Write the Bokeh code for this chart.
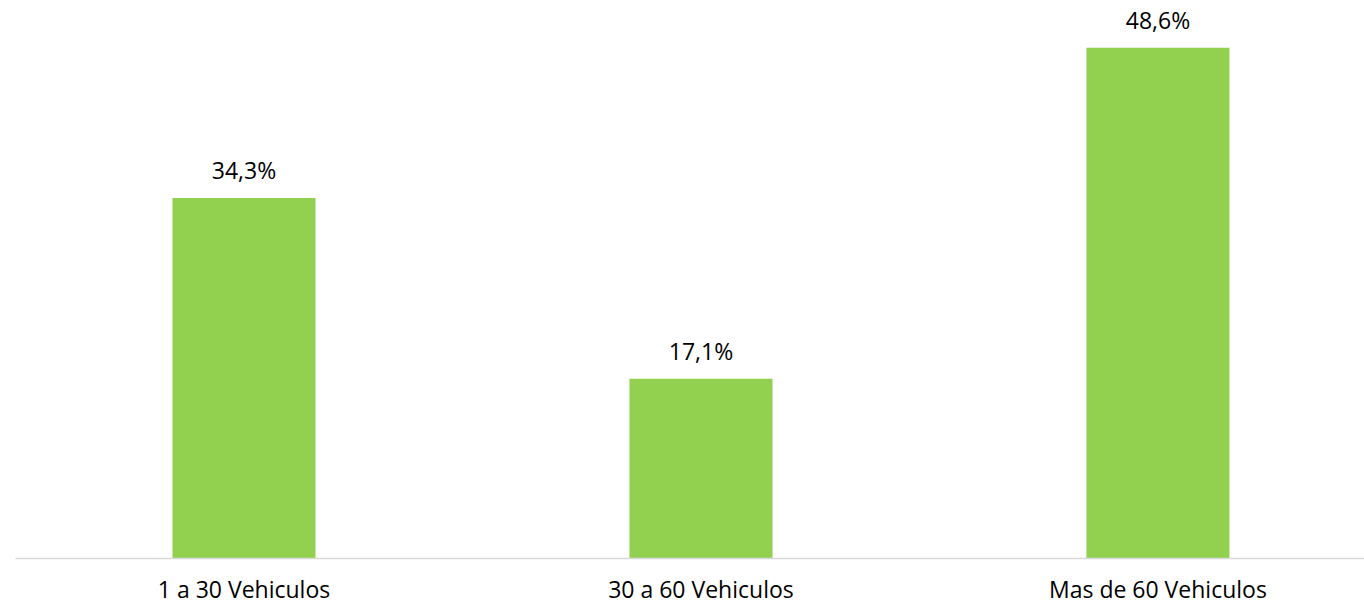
from bokeh.plotting import figure
from bokeh.models import ColumnDataSource, LabelSet, Range1d, FixedTicker
from bokeh.core.properties import value
from bokeh.embed import file_html
from bokeh.resources import INLINE

categories = ["1 a 30 Vehiculos", "30 a 60 Vehiculos", "Mas de 60 Vehiculos"]
values = [34.3, 17.1, 48.6]
value_labels = ["34,3%", "17,1%", "48,6%"]

xpos = [i + 0.5 for i in range(len(categories))]
src = ColumnDataSource(dict(x=xpos, top=values, lab=value_labels))

FONT = "Open Sans"

p = figure(width=1364, height=607, output_backend="svg", toolbar_location=None,
           x_range=Range1d(0, 2.952), y_range=Range1d(0, 53.1),
           min_border_left=15, min_border_right=0, min_border_top=0, min_border_bottom=49)
p.outline_line_color = None
p.grid.visible = False
p.yaxis.visible = False
p.background_fill_color = "white"
p.border_fill_color = "white"

p.vbar(x="x", top="top", width=0.313, bottom=0, source=src,
       fill_color="#92d050", line_color=None)

ax = p.xaxis[0]
ax.ticker = FixedTicker(ticks=xpos)
ax.major_label_overrides = {x: c for x, c in zip(xpos, categories)}
ax.major_label_text_font = FONT
ax.major_label_text_font_size = "23px"
ax.major_label_text_color = "#000000"
ax.major_label_standoff = 14
ax.major_tick_line_color = None
ax.major_tick_out = 0
ax.major_tick_in = 0
ax.minor_tick_line_color = None
ax.axis_line_color = "#d9d9d9"
ax.axis_line_width = 1.5

p.add_layout(LabelSet(x="x", y="top", text="lab", source=src, y_offset=19,
                      text_align="center", text_baseline="alphabetic",
                      text_font=value(FONT), text_font_size=value("23px"),
                      text_color="#000000"))

open("out.html", "w").write(file_html(p, INLINE))
